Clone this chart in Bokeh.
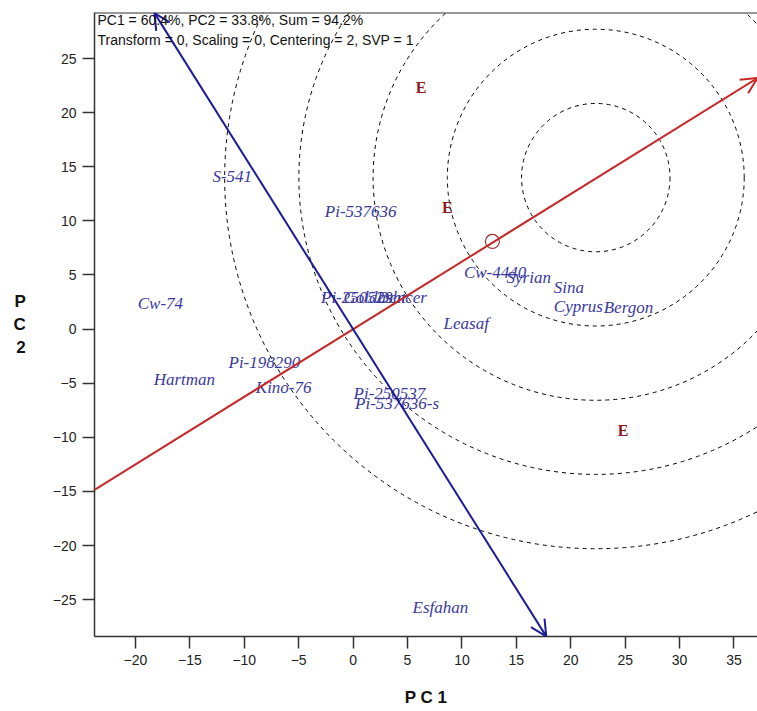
from bokeh.plotting import figure
from bokeh.models import ColumnDataSource, Label, Arrow, OpenHead, FixedTicker, Range1d, Span
from bokeh.embed import file_html
from bokeh.resources import INLINE
from bokeh.core.properties import value

# ---------------- data ----------------
genotype_names = ["S-541", "Pi-537636", "Cw-74", "Pi-250529", "Goldasht", "Dencer",
                  "Leasaf", "Cw-4440", "Syrian", "Sina", "Cyprus", "Bergon",
                  "Pi-198290", "Hartman", "Kino-76", "Pi-250537", "Pi-537636-s", "Esfahan"]
genotype_pc1 = [-11.1, 0.7, -17.7, 0.35, 1.99, 4.49,
                10.4, 13.05, 16.14, 19.82, 20.7, 25.3,
                -8.15, -15.5, -6.38, 3.34, 4.04, 8.02]
genotype_pc2 = [14.1, 10.85, 2.4, 2.95, 2.95, 2.95,
                0.55, 5.26, 4.8, 3.87, 2.09, 2.0,
                -3.06, -4.69, -5.37, -5.92, -6.9, -25.76]

env_names = ["E", "E", "E"]
env_pc1 = [6.25, 8.65, 24.8]
env_pc2 = [22.3, 11.2, -9.37]

# average environment (small circle) and ideal genotype (circle centre)
avg_env_pc1 = [12.8]
avg_env_pc2 = [8.1]
ideal_pc1 = 22.3
ideal_pc2 = 14.0
circle_radii = [6.82, 13.64, 20.46, 27.28, 34.1]

# AEC axes (end points)
aec_abscissa_x = [-23.76, 37.16]
aec_abscissa_y = [-14.85, 23.2]
aec_ordinate_x = [-18.25, 17.75]
aec_ordinate_y = [29.2, -28.4]

x_ticks = [-20, -15, -10, -5, 0, 5, 10, 15, 20, 25, 30, 35]
y_ticks = [-25, -20, -15, -10, -5, 0, 5, 10, 15, 20, 25]

header_lines = ["PC1 = 60.4%, PC2 = 33.8%, Sum = 94.2%",
                "Transform = 0, Scaling = 0, Centering = 2, SVP = 1"]

X_RANGE = (-23.76, 37.16)
Y_RANGE = (-28.41, 29.26)

BLUE = "#1c1c96"
RED = "#c62828"
LABEL_BLUE = "#3a3a9e"
ENV_RED = "#8b1a1a"

p = figure(width=757, height=711,
           x_range=Range1d(*X_RANGE), y_range=Range1d(*Y_RANGE),
           output_backend="svg", toolbar_location=None,
           min_border_left=94, min_border_right=0,
           min_border_top=12, min_border_bottom=75)
p.grid.visible = False
p.outline_line_color = None
p.background_fill_color = "white"

# axes
for ax, ticks in ((p.xaxis[0], x_ticks), (p.yaxis[0], y_ticks)):
    ax.ticker = FixedTicker(ticks=ticks)
    ax.major_tick_out = 12
    ax.major_tick_in = 0
    ax.minor_tick_out = 0
    ax.minor_tick_in = 0
    ax.major_label_text_font = "Liberation Sans"
    ax.major_label_text_font_size = "14px"
    ax.major_label_text_color = "#222222"
    ax.axis_line_color = "#333333"
    ax.axis_line_width = 1.5
    ax.major_tick_line_color = "#333333"
    ax.major_tick_line_width = 1.5
    ax.major_label_standoff = 6
    ax.axis_label_text_font = "Liberation Sans"
    ax.axis_label_text_font_style = "bold"
    ax.axis_label_text_font_size = "17px"
    ax.axis_label_text_color = "#111111"

xax = p.xaxis[0]
xax.axis_label = "P C 1"
xax.axis_label_standoff = 20

yax = p.yaxis[0]
if "axis_label_orientation" in yax.properties():
    yax.axis_label = "P\nC\n2"
    yax.axis_label_orientation = "horizontal"
else:
    yax.axis_label = "P C 2"
yax.axis_label_standoff = 24

# top border
p.add_layout(Span(location=Y_RANGE[1], dimension="width", line_color="#333333", line_width=2))

# concentric circles around ideal genotype
p.circle(x=[ideal_pc1] * len(circle_radii), y=[ideal_pc2] * len(circle_radii),
         radius=circle_radii, fill_color=None, line_color="black",
         line_dash="4 4", line_width=1)

# AEC axes
p.add_layout(Arrow(end=OpenHead(size=16, line_color=RED, line_width=2),
                   x_start=aec_abscissa_x[0], y_start=aec_abscissa_y[0],
                   x_end=aec_abscissa_x[1], y_end=aec_abscissa_y[1],
                   line_color=RED, line_width=2))
p.add_layout(Arrow(start=OpenHead(size=16, line_color=BLUE, line_width=2),
                   end=OpenHead(size=16, line_color=BLUE, line_width=2),
                   x_start=aec_ordinate_x[0], y_start=aec_ordinate_y[0],
                   x_end=aec_ordinate_x[1], y_end=aec_ordinate_y[1],
                   line_color=BLUE, line_width=2))

# average environment marker
p.scatter(x=avg_env_pc1, y=avg_env_pc2, marker="circle", size=14,
          fill_color=None, line_color="#a03030", line_width=1.2)

# genotype labels
gsrc = ColumnDataSource(dict(x=genotype_pc1, y=genotype_pc2, t=genotype_names))
p.text(x="x", y="y", text="t", source=gsrc, text_align="center", text_baseline="middle",
       text_font=value("Liberation Serif"), text_font_style="italic",
       text_font_size="17px", text_color=LABEL_BLUE)

# environment labels
esrc = ColumnDataSource(dict(x=env_pc1, y=env_pc2, t=env_names))
p.text(x="x", y="y", text="t", source=esrc, text_align="center", text_baseline="middle",
       text_font=value("Liberation Serif"), text_font_style="bold",
       text_font_size="16px", text_color=ENV_RED)

# header
for i, line in enumerate(header_lines):
    p.add_layout(Label(x=3, y=617 - 20 * i, x_units="screen", y_units="screen",
                       text=line, text_font="Liberation Sans", text_font_size="14px",
                       text_baseline="middle", text_align="left", text_color="#111111"))

open("out.html", "w").write(file_html(p, INLINE))
